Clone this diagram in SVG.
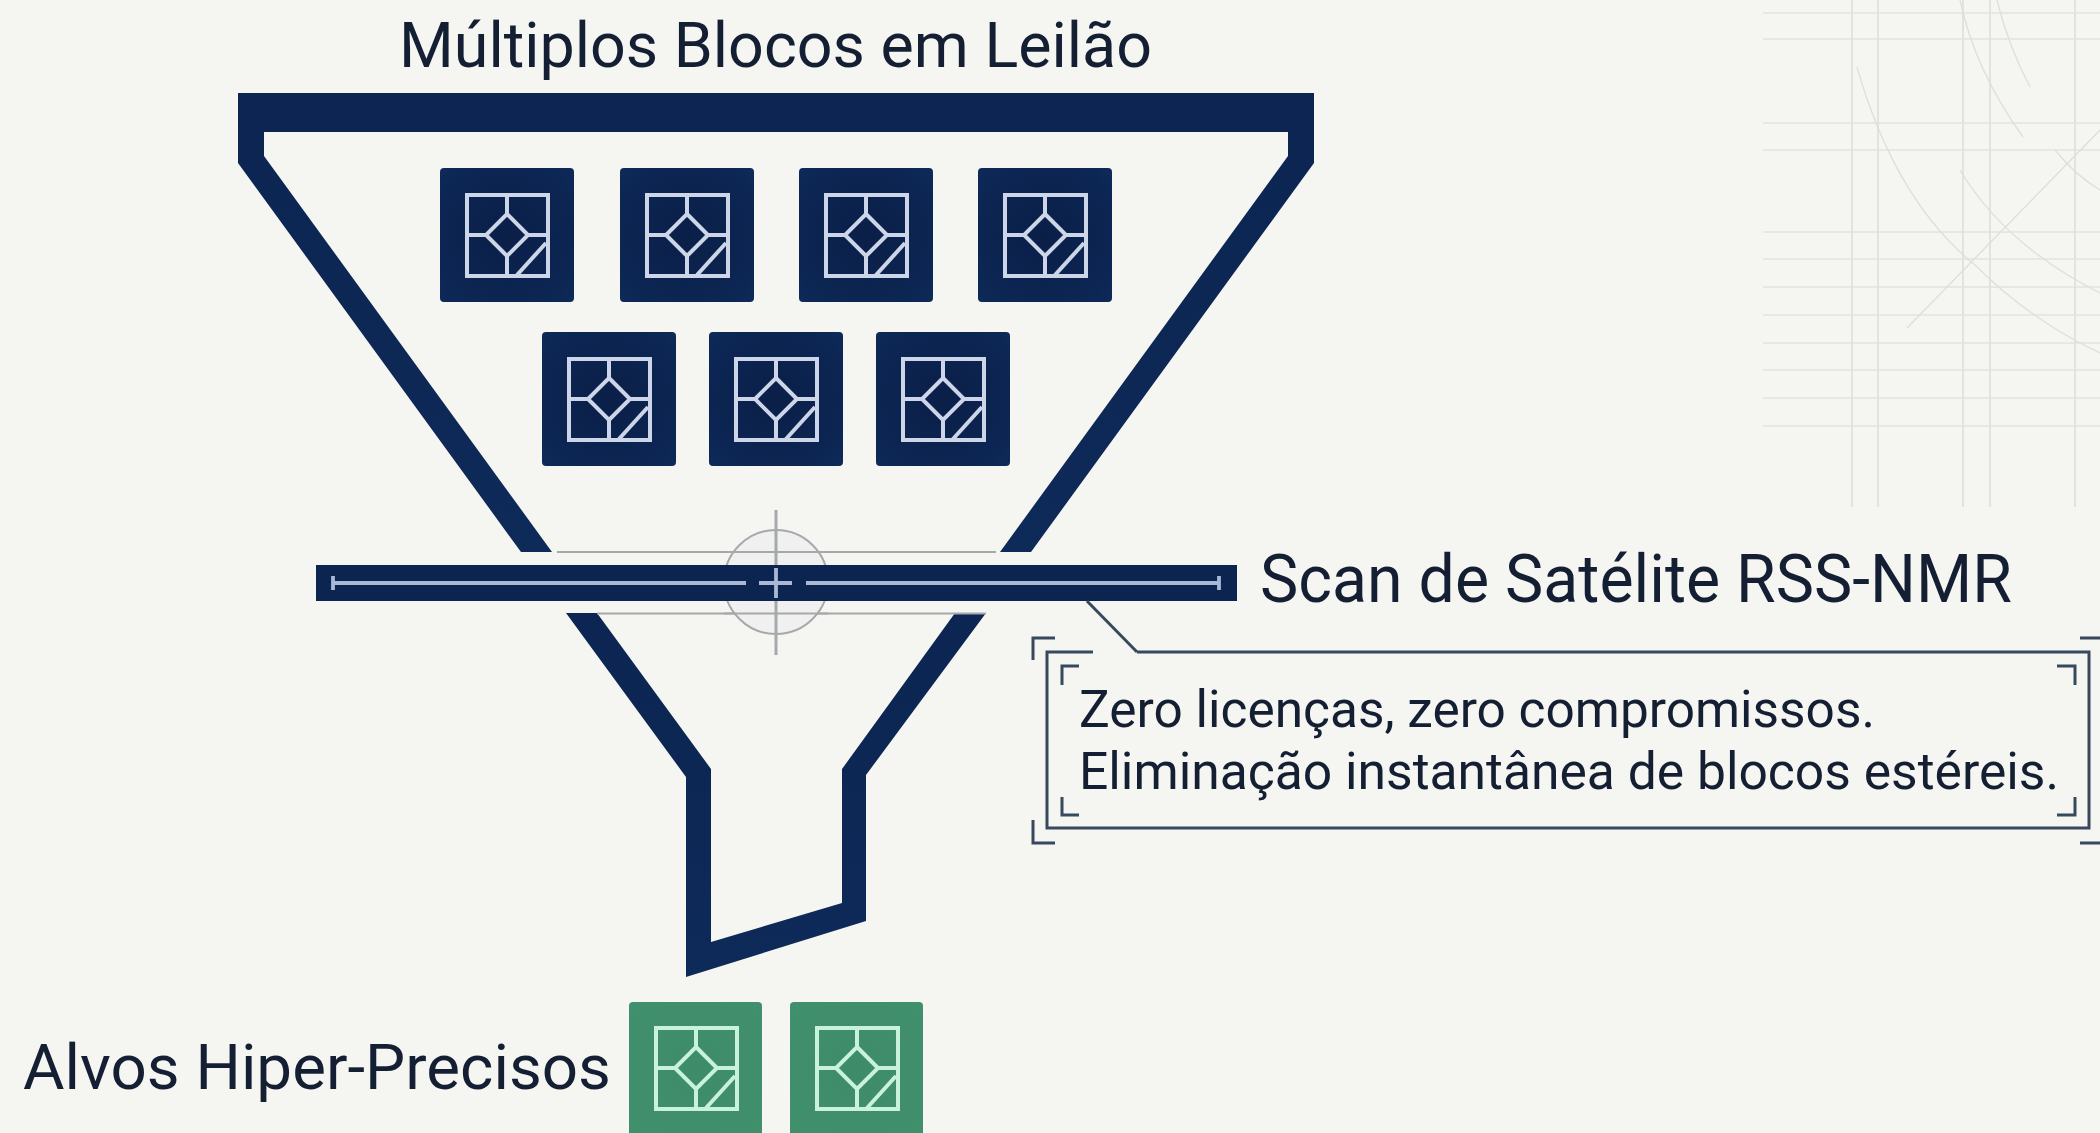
<svg xmlns="http://www.w3.org/2000/svg" width="2100" height="1133" viewBox="0 0 2100 1133">
<defs>
<style>
.t{font-family:"Roboto","Liberation Sans",sans-serif;fill:#141f33}
.grid{stroke:#e2e4e1;stroke-width:1.6;fill:none}
.gridv{stroke:#dcdfde;stroke-width:1.6;fill:none}
.arc{stroke:#dcdfdd;stroke-width:1.3;fill:none}
.navy{fill:url(#navyBand)}
.ico{fill:none;stroke-width:4}
.nb{fill:url(#navyBlock)}
.ni{stroke:#ccd6e8}
.gb{fill:url(#greenBlock)}
.gi{stroke:#c8f2dc}
.thin{stroke:#a6a9aa;stroke-width:2;fill:none}
.scan{stroke:#a9b9d3;stroke-width:3.8;fill:none}
.call{stroke:#38495f;stroke-width:3;fill:none}
</style>
<linearGradient id="navyBand" x1="0" y1="0" x2="0" y2="1"><stop offset="0" stop-color="#0c2552"/><stop offset="1" stop-color="#0e2a58"/></linearGradient>
<radialGradient id="navyBlock" cx=".5" cy=".5" r=".7"><stop offset="0" stop-color="#0a1f48"/><stop offset=".7" stop-color="#0c2552"/><stop offset="1" stop-color="#0e2a58"/></radialGradient>
<radialGradient id="greenBlock" cx=".5" cy=".5" r=".7"><stop offset="0" stop-color="#3e8b69"/><stop offset="1" stop-color="#41906d"/></radialGradient>
<g id="glass" class="ico">
<rect x="27" y="27" width="81" height="81"/>
<path d="M67 27V46M27 67H46M88 67H108M67 88V108M67 46L88 67L67 88L46 67Z"/>
<path d="M106 75L77 107"/>
</g>
</defs>
<rect width="2100" height="1133" fill="#f5f5f1"/>
<g id="background-grid">
<path class="grid" d="M1763 13H2100M1763 39H2100M1763 123H2100M1763 150H2100M1763 232H2100M1763 259H2100M1763 287H2100M1763 315H2100M1763 343H2100M1763 370H2100M1763 398H2100M1763 426H2100"/>
<path class="gridv" d="M1852 0V507M1878 0V507M1963 0V507M1990 0V507M2075 0V507"/>
<path class="arc" d="M1857 67Q1895 200 1975 265Q2030 320 2100 353M1960 0Q1975 70 2023 137M1997 0Q2008 45 2030 87M1960 170Q2005 245 2100 293M2055 150Q2075 175 2100 190M1907 328L2100 130"/>
</g>
<g id="funnel">
<path class="navy" d="M238 93H1314V163L1031 552H1000L1288 156V132H264V156L552 552H521L238 163Z"/>
<path class="navy" d="M566 613H597L711 769V942L842 903V769L955 613H986L866 775V921L686 977V777Z"/>
</g>
<g id="blocks">
<g id="block-1" transform="translate(440 168)"><rect class="nb" width="134" height="134" rx="4"/><use href="#glass" class="ni"/></g>
<g id="block-2" transform="translate(620 168)"><rect class="nb" width="134" height="134" rx="4"/><use href="#glass" class="ni"/></g>
<g id="block-3" transform="translate(799 168)"><rect class="nb" width="134" height="134" rx="4"/><use href="#glass" class="ni"/></g>
<g id="block-4" transform="translate(978 168)"><rect class="nb" width="134" height="134" rx="4"/><use href="#glass" class="ni"/></g>
<g id="block-5" transform="translate(542 332)"><rect class="nb" width="134" height="134" rx="4"/><use href="#glass" class="ni"/></g>
<g id="block-6" transform="translate(709 332)"><rect class="nb" width="134" height="134" rx="4"/><use href="#glass" class="ni"/></g>
<g id="block-7" transform="translate(876 332)"><rect class="nb" width="134" height="134" rx="4"/><use href="#glass" class="ni"/></g>
</g>
<g id="scanner">
<path class="thin" d="M557 552H996M597 613.500H986"/>
<circle cx="776" cy="582" r="52" fill="#eff0ef" stroke="#a6a9aa" stroke-width="2"/>
<path class="thin" d="M724 552H828M724 613.500H828"/>
<path d="M776 510V655" stroke="#a6a9aa" stroke-width="3"/>
<rect x="316" y="565" width="921" height="36" fill="#0b2450"/>
<path class="scan" d="M333 576V590M333 583H746M759 583H792M776 568V598M806 583H1219M1219 576V590"/>
</g>
<g id="connectors">
<path id="leader" class="call" d="M1087 601L1137 652"/>
</g>
<g id="callout">
<path class="call" d="M1137 652H2089V828H1047V652H1093"/>
<path class="call" d="M1055 638H1033V660M1033 820V843H1055M2080 638H2100M2080 843H2100M1062 685V666H1079M2057 666H2075V685M1062 797V815H1079M2057 815H2075V797"/>
<text class="t" x="1079" y="727" font-size="52" textLength="796" lengthAdjust="spacingAndGlyphs">Zero licenças, zero compromissos.</text>
<text class="t" x="1079" y="789" font-size="52" textLength="980" lengthAdjust="spacingAndGlyphs">Eliminação instantânea de blocos estéreis.</text>
</g>
<g id="targets">
<g id="target-1" transform="translate(629 1002)"><rect class="gb" width="133" height="134" rx="4"/><use href="#glass" y="-1" class="gi"/></g>
<g id="target-2" transform="translate(790 1002)"><rect class="gb" width="133" height="134" rx="4"/><use href="#glass" y="-1" class="gi"/></g>
</g>
<text class="t" x="399" y="67" font-size="63" textLength="753" lengthAdjust="spacingAndGlyphs">Múltiplos Blocos em Leilão</text>
<text class="t" x="1260" y="602" font-size="66" textLength="752" lengthAdjust="spacingAndGlyphs">Scan de Satélite RSS-NMR</text>
<text class="t" x="23" y="1089" font-size="63" textLength="588" lengthAdjust="spacingAndGlyphs">Alvos Hiper-Precisos</text>
</svg>
